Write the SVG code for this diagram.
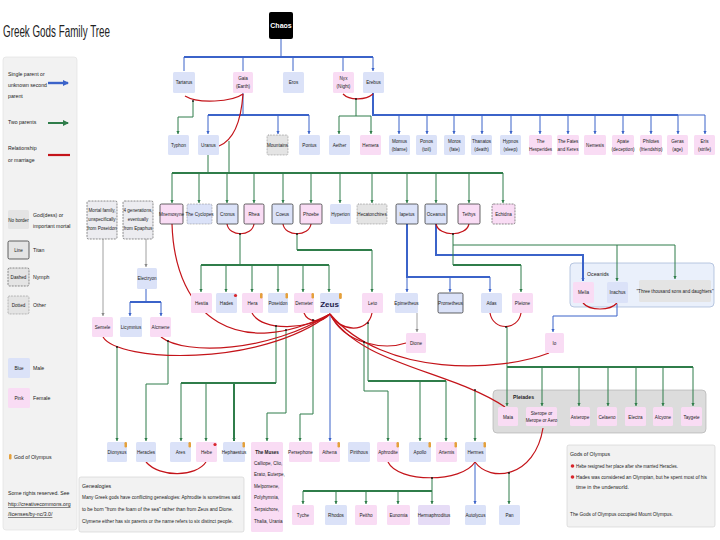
<svg xmlns="http://www.w3.org/2000/svg" width="720" height="540" viewBox="0 0 720 540">
<defs>
<style>
text{font-family:"Liberation Sans",Arial,sans-serif;fill:#222}
.t{font-size:4.6px;text-anchor:middle}
.l{font-size:5.2px}
.s{font-size:4.5px}
.m{fill:#dbe2f8}
.f{fill:#f9dcf4}
.o{fill:#e4e4e4}
.h{fill:#e6dcf6}
.ti{stroke:#222;stroke-width:0.7}
.ny{stroke:#444;stroke-width:0.6;stroke-dasharray:2 1}
.ot{stroke:#555;stroke-width:0.6;stroke-dasharray:0.6 0.9}
.cb{stroke:#3b63c9;fill:none;stroke-width:1}
.cbt{stroke:#3b63c9;fill:none;stroke-width:2}
.cg{stroke:#2f7d4a;fill:none;stroke-width:1}
.cgt{stroke:#2f7d4a;fill:none;stroke-width:2}
.cgy{stroke:#888;fill:none;stroke-width:0.8}
.cr{stroke:#c4141a;fill:none;stroke-width:1.2}
.ol{fill:#e5a03a}
.rd{fill:#d8262b}
</style>
<marker id="ab" markerWidth="4" markerHeight="4" refX="3" refY="2" orient="auto" markerUnits="userSpaceOnUse"><path d="M0,0.4 L3,2 L0,3.6z" fill="#3b63c9"/></marker>
<marker id="ag" markerWidth="4" markerHeight="4" refX="3" refY="2" orient="auto" markerUnits="userSpaceOnUse"><path d="M0,0.4 L3,2 L0,3.6z" fill="#2f7d4a"/></marker>
<marker id="ay" markerWidth="4" markerHeight="4" refX="3" refY="2" orient="auto" markerUnits="userSpaceOnUse"><path d="M0,0.4 L3,2 L0,3.6z" fill="#888"/></marker>
<marker id="lb" markerWidth="8" markerHeight="8" refX="5" refY="4" orient="auto" markerUnits="userSpaceOnUse"><path d="M0,1 L6,4 L0,7z" fill="#3b63c9"/></marker>
<marker id="lg" markerWidth="8" markerHeight="8" refX="5" refY="4" orient="auto" markerUnits="userSpaceOnUse"><path d="M0,1 L6,4 L0,7z" fill="#2f7d4a"/></marker>
</defs>
<rect width="720" height="540" fill="#fff"/>

<text x="3" y="37" font-size="16" textLength="107" lengthAdjust="spacingAndGlyphs" fill="#333">Greek Gods Family Tree</text>

<g id="legend">
<rect x="3" y="57" width="74" height="473" rx="3" fill="#f2f2f2" stroke="#ddd" stroke-width="0.6"/>
<text class="l" x="8" y="76">Single parent or</text>
<text class="l" x="8" y="87">unknown second</text>
<text class="l" x="8" y="98">parent</text>
<path d="M48,83 H68" stroke="#3b63c9" stroke-width="2.4" marker-end="url(#lb)"/>
<text class="l" x="8" y="124">Two parents</text>
<path d="M48,123 H68" stroke="#2f7d4a" stroke-width="2" marker-end="url(#lg)"/>
<text class="l" x="8" y="150">Relationship</text>
<text class="l" x="8" y="162">or marriage</text>
<path d="M48,155 H70" stroke="#c4141a" stroke-width="2.2"/>
<rect x="8" y="210" width="21" height="19" rx="1.5" class="o"/>
<text class="t" x="18.5" y="221.5">No border</text>
<text class="l" x="33" y="217">God(dess) or</text>
<text class="l" x="33" y="228">important mortal</text>
<rect x="8" y="241" width="21" height="18" rx="1.5" class="o ti"/>
<text class="t" x="18.5" y="251.5">Line</text>
<text class="l" x="33" y="252">Titan</text>
<rect x="8" y="268" width="21" height="18" rx="1.5" class="o ny"/>
<text class="t" x="18.5" y="278.5">Dashed</text>
<text class="l" x="33" y="279">Nymph</text>
<rect x="8" y="296" width="21" height="18" rx="1.5" class="o ot"/>
<text class="t" x="18.5" y="306.5">Dotted</text>
<text class="l" x="33" y="307">Other</text>
<rect x="8" y="358" width="22" height="20" rx="1.5" class="m"/>
<text class="t" x="19" y="369.5">Blue</text>
<text class="l" x="33" y="370">Male</text>
<rect x="8" y="388" width="22" height="20" rx="1.5" class="f"/>
<text class="t" x="19" y="399.5">Pink</text>
<text class="l" x="33" y="400">Female</text>
<rect x="9" y="454" width="2.5" height="5.5" rx="1.2" class="ol"/>
<text class="l" x="14" y="459">God of Olympus</text>
<text class="l" x="8" y="495">Some rights reserved. See</text>
<text class="l" x="8" y="506" fill="#2a4fb3" text-decoration="underline">http://creativecommons.org</text>
<text class="l" x="8" y="516" fill="#2a4fb3" text-decoration="underline">/licenses/by-nc/3.0/</text>
</g>

<g id="genealogies">
<rect x="79" y="477" width="165" height="55" rx="2" fill="#f2f2f2" stroke="#ccc" stroke-width="0.6"/>
<text class="l" x="82" y="488">Genealogies</text>
<text class="s" x="82" y="499" textLength="158" lengthAdjust="spacingAndGlyphs">Many Greek gods have conflicting genealogies: Aphrodite is sometimes said</text>
<text class="s" x="82" y="511" textLength="151" lengthAdjust="spacingAndGlyphs">to be born "from the foam of the sea" rather than from Zeus and Dione.</text>
<text class="s" x="82" y="523" textLength="151" lengthAdjust="spacingAndGlyphs">Clymene either has six parents or the name refers to six distinct people.</text>
</g>

<g id="olympus-note">
<rect x="567" y="445" width="148" height="82" rx="2" fill="#f2f2f2" stroke="#ccc" stroke-width="0.6"/>
<text class="l" x="570" y="456">Gods of Olympus</text>
<circle cx="572.5" cy="466" r="1.8" class="rd"/>
<text class="s" x="576" y="468" textLength="102" lengthAdjust="spacingAndGlyphs">Hebe resigned her place after she married Heracles.</text>
<circle cx="572.5" cy="477" r="1.8" class="rd"/>
<text class="s" x="576" y="479" textLength="131" lengthAdjust="spacingAndGlyphs">Hades was considered an Olympian, but he spent most of his</text>
<text class="s" x="576" y="489" textLength="53" lengthAdjust="spacingAndGlyphs">time in the underworld.</text>
<text class="s" x="570" y="516" textLength="103" lengthAdjust="spacingAndGlyphs">The Gods of Olympus occupied Mount Olympus.</text>
</g>

<g id="groups">
<rect x="570" y="263" width="144" height="44" rx="4" fill="#eaf0fb" stroke="#9fb2d4" stroke-width="0.7"/>
<text class="l" x="587" y="276">Oceanids</text>
<rect x="493" y="390" width="213" height="43" rx="4" fill="#dcdcdc" stroke="#aaa" stroke-width="0.6"/>
<text class="l" x="513" y="399" font-weight="bold">Pleiades</text>
</g>

<g id="connectors">
<path class="cb" d="M281,39 V57"/>
<path class="cbt" d="M184,57 H373"/>
<path class="cb" marker-end="url(#ab)" d="M184,57 V71 M243,57 V71 M293,57 V71 M343,57 V71 M373,57 V71"/>
<path class="cb" d="M243,93 V115"/>
<path class="cbt" d="M208,115 H309"/>
<path class="cb" marker-end="url(#ab)" d="M208,115 V134"/>
<path class="cb" marker-end="url(#ab)" d="M278,115 V134"/>
<path class="cb" marker-end="url(#ab)" d="M309,115 V134"/>
<path class="cbt" d="M373,93 V115 H678"/>
<path class="cb" d="M678,115 H705"/>
<g class="cb" marker-end="url(#ab)">
<path d="M399,115 V134"/><path d="M427,115 V134"/><path d="M454,115 V134"/><path d="M482,115 V134"/><path d="M511,115 V134"/><path d="M540,115 V134"/><path d="M568,115 V134"/><path d="M595,115 V134"/><path d="M623,115 V134"/><path d="M651,115 V134"/><path d="M678,115 V134"/><path d="M705,115 V134"/>
</g>
<path class="cbt" marker-end="url(#ab)" d="M436,224 V255 H583 V281"/>
<path class="cbt" d="M407,224 V277 H490"/>
<path class="cb" marker-end="url(#ab)" d="M407,277 V292"/>
<path class="cb" marker-end="url(#ab)" d="M450,277 V292"/>
<path class="cb" marker-end="url(#ab)" d="M490,277 V292"/>
<path class="cb" d="M146,289 V302"/>
<path class="cbt" d="M130,302 H161"/>
<path class="cb" marker-end="url(#ab)" d="M130,302 V316"/>
<path class="cb" marker-end="url(#ab)" d="M161,302 V316"/>
<path class="cb" marker-end="url(#ab)" d="M617,304 V316 H553 V332"/>
<path class="cb" marker-end="url(#ab)" d="M330,314 V441"/>
<path class="cb" marker-end="url(#ab)" d="M475,462 V504"/>
<path class="cgy" marker-end="url(#ay)" d="M417,313 V332"/>
<path class="cgy" marker-end="url(#ay)" d="M103,239 V316"/>
<path class="cgy" marker-end="url(#ay)" d="M146,239 V267"/>
<path class="cg" marker-end="url(#ag)" d="M193,101 V117 H178 V134"/>
<path class="cg" d="M208,155 V173"/>
<path class="cg" d="M229,141 V173"/>
<path class="cgt" d="M172,173 H503"/>
<g class="cg" marker-end="url(#ag)">
<path d="M172,173 V203"/><path d="M199,173 V203"/><path d="M227,173 V203"/><path d="M254,173 V203"/><path d="M283,173 V203"/><path d="M311,173 V203"/><path d="M340,173 V203"/><path d="M372,173 V203"/><path d="M407,173 V203"/><path d="M436,173 V203"/><path d="M469,173 V203"/><path d="M503,173 V203"/>
</g>
<path class="cg" d="M356,99 V116"/>
<path class="cg" d="M339,116 H371"/>
<path class="cg" marker-end="url(#ag)" d="M339,116 V134"/>
<path class="cg" marker-end="url(#ag)" d="M371,116 V134"/>
<path class="cg" d="M240,233 V265"/>
<path class="cgt" d="M201,265 H329"/>
<g class="cg" marker-end="url(#ag)">
<path d="M201,265 V292"/><path d="M226,265 V292"/><path d="M252,265 V292"/><path d="M278,265 V292"/><path d="M303,265 V292"/><path d="M329,265 V292"/>
</g>
<path class="cg" d="M297,233 V250"/>
<path class="cgt" d="M297,250 H372"/>
<path class="cg" marker-end="url(#ag)" d="M372,250 V292"/>
<path class="cg" d="M453,233 V265"/>
<path class="cgt" d="M453,265 H521"/>
<path class="cg" marker-end="url(#ag)" d="M521,265 V292"/>
<path class="cg" marker-end="url(#ag)" d="M453,245 H675 V279"/>
<path class="cg" marker-end="url(#ag)" d="M617,245 V281"/>
<path class="cg" marker-end="url(#ag)" d="M507,326 V406"/>
<path class="cgt" d="M507,367 H693"/>
<g class="cg" marker-end="url(#ag)">
<path d="M542,367 V406"/><path d="M579,367 V406"/><path d="M608,367 V406"/><path d="M636,367 V406"/><path d="M663,367 V406"/><path d="M693,367 V406"/>
</g>
<path class="cg" marker-end="url(#ag)" d="M117,347 V441"/>
<path class="cg" marker-end="url(#ag)" d="M168,341 V384 H146 V441"/>
<path class="cg" d="M276,326 V383"/>
<path class="cgt" d="M181,383 H276"/>
<path class="cg" marker-end="url(#ag)" d="M181,383 V441"/>
<path class="cg" marker-end="url(#ag)" d="M206,383 V441"/>
<path class="cgt" marker-end="url(#ag)" d="M234,383 V441"/>
<path class="cg" marker-end="url(#ag)" d="M286,330 V413 H267 V441"/>
<path class="cg" marker-end="url(#ag)" d="M313,320 V414 H300 V441"/>
<path class="cg" marker-end="url(#ag)" d="M364,342 V391 H388 V441"/>
<path class="cg" d="M368,323 V381"/>
<path class="cgt" d="M368,381 H446"/>
<path class="cg" marker-end="url(#ag)" d="M420,381 V441"/>
<path class="cg" marker-end="url(#ag)" d="M446,381 V441"/>
<path class="cg" marker-end="url(#ag)" d="M475,390 V441"/>
<path class="cg" d="M432,478 V491"/>
<path class="cgt" d="M303,491 H432"/>
<g class="cg" marker-end="url(#ag)">
<path d="M303,491 V504"/><path d="M336,491 V504"/><path d="M366,491 V504"/><path d="M398,491 V504"/><path d="M432,491 V504"/>
</g>
<path class="cg" marker-end="url(#ag)" d="M509,473 V504"/>
<g class="cr">
<path d="M185,96 C198,104 232,102 243,94"/>
<path d="M243,94 C241,122 234,140 219,146"/>
<path d="M343,94 C350,101 366,100 373,94"/>
<path d="M227,224 C229,237 252,237 254,224"/>
<path d="M283,224 C285,237 309,237 311,224"/>
<path d="M436,224 C439,237 466,237 469,224"/>
<path d="M490,313 C493,331 518,331 521,313"/>
<path d="M583,303 C590,311 610,311 617,303"/>
<path d="M252,313 C262,332 310,330 330,314"/>
<path d="M304,313 C308,323 322,323 330,314"/>
<path d="M172,224 C175,320 240,360 330,314"/>
<path d="M161,337 C185,356 270,352 330,314"/>
<path d="M103,337 C118,362 260,368 330,314"/>
<path d="M330,314 C340,332 368,334 372,313"/>
<path d="M330,314 C345,345 385,350 406,343"/>
<path d="M330,314 C385,378 500,372 549,353"/>
<path d="M330,314 C360,365 450,370 505,407"/>
<path d="M146,462 C160,478 196,477 206,462"/>
<path d="M388,462 C398,483 462,483 475,462"/>
<path d="M475,462 C490,483 535,478 543,428"/>
</g>
<g fill="#111">
<circle cx="193" cy="101" r="0.9"/><circle cx="240" cy="234" r="0.9"/><circle cx="297" cy="234" r="0.9"/><circle cx="453" cy="234" r="0.9"/><circle cx="506" cy="327" r="0.9"/><circle cx="276" cy="326" r="0.9"/><circle cx="313" cy="320" r="0.9"/><circle cx="286" cy="330" r="0.9"/><circle cx="168" cy="341" r="0.9"/><circle cx="117" cy="347" r="0.9"/><circle cx="368" cy="323" r="0.9"/><circle cx="364" cy="342" r="0.9"/><circle cx="475" cy="390" r="0.9"/><circle cx="432" cy="478" r="0.9"/><circle cx="509" cy="473" r="0.9"/><circle cx="356" cy="99" r="0.9"/>
</g>
</g>

<g id="n-chaos"><rect x="269" y="12" width="24" height="27" rx="2" fill="#000"/><text class="t" x="281" y="28" style="fill:#fff;font-size:7px;font-weight:bold">Chaos</text></g>
<g id="n-tartarus"><rect x="173" y="72" width="22" height="21" rx="1.5" class="m"/><text class="t" x="184" y="84">Tartarus</text></g>
<g id="n-gaia"><rect x="233" y="72" width="20" height="21" rx="1.5" class="f"/><text class="t" x="243" y="80">Gaia</text><text class="t" x="243" y="88">(Earth)</text></g>
<g id="n-eros"><rect x="283" y="72" width="21" height="21" rx="1.5" class="m"/><text class="t" x="293.5" y="84">Eros</text></g>
<g id="n-nyx"><rect x="333" y="72" width="21" height="21" rx="1.5" class="f"/><text class="t" x="343.5" y="80">Nyx</text><text class="t" x="343.5" y="88">(Night)</text></g>
<g id="n-erebus"><rect x="363" y="72" width="21" height="21" rx="1.5" class="m"/><text class="t" x="373.5" y="84">Erebus</text></g>

<g id="n-typhon"><rect x="168" y="135" width="21" height="20" rx="1.5" class="m"/><text class="t" x="178.5" y="147">Typhon</text></g>
<g id="n-uranus"><rect x="198" y="135" width="21" height="20" rx="1.5" class="m"/><text class="t" x="208.5" y="147">Uranus</text></g>
<g id="n-mountains"><rect x="267" y="135" width="21" height="20" rx="1.5" class="o ot"/><text class="t" x="277.5" y="147">Mountains</text></g>
<g id="n-pontus"><rect x="299" y="135" width="21" height="20" rx="1.5" class="m"/><text class="t" x="309.5" y="147">Pontus</text></g>
<g id="n-aether"><rect x="329" y="135" width="21" height="20" rx="1.5" class="m"/><text class="t" x="339.5" y="147">Aether</text></g>
<g id="n-hemera"><rect x="360" y="135" width="21" height="20" rx="1.5" class="f"/><text class="t" x="370.5" y="147">Hemera</text></g>
<g id="n-momus"><rect x="389" y="135" width="21" height="20" rx="1.5" class="m"/><text class="t" x="399.5" y="143">Momus</text><text class="t" x="399.5" y="151">(blame)</text></g>
<g id="n-ponos"><rect x="416" y="135" width="21" height="20" rx="1.5" class="m"/><text class="t" x="426.5" y="143">Ponos</text><text class="t" x="426.5" y="151">(toil)</text></g>
<g id="n-moros"><rect x="444" y="135" width="21" height="20" rx="1.5" class="m"/><text class="t" x="454.5" y="143">Moros</text><text class="t" x="454.5" y="151">(fate)</text></g>
<g id="n-thanatos"><rect x="471" y="135" width="21" height="20" rx="1.5" class="m"/><text class="t" x="481.5" y="143">Thanatos</text><text class="t" x="481.5" y="151">(death)</text></g>
<g id="n-hypnos"><rect x="500" y="135" width="21" height="20" rx="1.5" class="m"/><text class="t" x="510.5" y="143">Hypnos</text><text class="t" x="510.5" y="151">(sleep)</text></g>
<g id="n-hesperides"><rect x="529" y="135" width="23" height="20" rx="1.5" class="f"/><text class="t" x="540.5" y="143">The</text><text class="t" x="540.5" y="151">Hesperides</text></g>
<g id="n-fates"><rect x="557" y="135" width="22" height="20" rx="1.5" class="f"/><text class="t" x="568" y="143">The Fates</text><text class="t" x="568" y="151">and Keres</text></g>
<g id="n-nemesis"><rect x="584" y="135" width="22" height="20" rx="1.5" class="f"/><text class="t" x="595" y="147">Nemesis</text></g>
<g id="n-apate"><rect x="612" y="135" width="22" height="20" rx="1.5" class="f"/><text class="t" x="623" y="143">Apate</text><text class="t" x="623" y="151">(deception)</text></g>
<g id="n-philotes"><rect x="640" y="135" width="22" height="20" rx="1.5" class="f"/><text class="t" x="651" y="143">Philotes</text><text class="t" x="651" y="151">(friendship)</text></g>
<g id="n-geras"><rect x="667" y="135" width="21" height="20" rx="1.5" class="f"/><text class="t" x="677.5" y="143">Geras</text><text class="t" x="677.5" y="151">(age)</text></g>
<g id="n-eris"><rect x="694" y="135" width="21" height="20" rx="1.5" class="f"/><text class="t" x="704.5" y="143">Eris</text><text class="t" x="704.5" y="151">(strife)</text></g>

<g id="n-mnemosyne"><rect x="160" y="204" width="23" height="20" rx="1.5" class="f ti"/><text class="t" x="171.5" y="216">Mnemosyne</text></g>
<g id="n-cyclopes"><rect x="187" y="204" width="25" height="20" rx="1.5" class="m ot"/><text class="t" x="199.5" y="216">The Cyclopes</text></g>
<g id="n-cronus"><rect x="217" y="204" width="21" height="20" rx="1.5" class="m ti"/><text class="t" x="227.5" y="216">Cronus</text></g>
<g id="n-rhea"><rect x="244" y="204" width="20" height="20" rx="1.5" class="f ti"/><text class="t" x="254" y="216">Rhea</text></g>
<g id="n-coeus"><rect x="272" y="204" width="21" height="20" rx="1.5" class="m ti"/><text class="t" x="282.5" y="216">Coeus</text></g>
<g id="n-phoebe"><rect x="300" y="204" width="22" height="20" rx="1.5" class="f ti"/><text class="t" x="311" y="216">Phoebe</text></g>
<g id="n-hyperion"><rect x="330" y="204" width="21" height="20" rx="1.5" class="m"/><text class="t" x="340.5" y="216">Hyperion</text></g>
<g id="n-hecatonchires"><rect x="357" y="204" width="30" height="20" rx="1.5" class="o ot"/><text class="t" x="372" y="216">Hecatonchires</text></g>
<g id="n-iapetus"><rect x="396" y="204" width="22" height="20" rx="1.5" class="m ti"/><text class="t" x="407" y="216">Iapetus</text></g>
<g id="n-oceanus"><rect x="425" y="204" width="22" height="20" rx="1.5" class="m ti"/><text class="t" x="436" y="216">Oceanus</text></g>
<g id="n-tethys"><rect x="458" y="204" width="22" height="20" rx="1.5" class="f ti"/><text class="t" x="469" y="216">Tethys</text></g>
<g id="n-echidna"><rect x="492" y="204" width="23" height="20" rx="1.5" class="f ny"/><text class="t" x="503.5" y="216">Echidna</text></g>

<g id="n-mortal"><rect x="87" y="201" width="30" height="38" rx="1.5" fill="#ececf0" class="ny"/><text class="t" x="102" y="212">Mortal family,</text><text class="t" x="102" y="221">unspecifically</text><text class="t" x="102" y="230">from Poseidon</text></g>
<g id="n-generations"><rect x="123" y="201" width="30" height="38" rx="1.5" fill="#ececf0" class="ny"/><text class="t" x="138" y="212">4 generations,</text><text class="t" x="138" y="221">eventually</text><text class="t" x="138" y="230">from Epaphus</text></g>
<g id="n-electryon"><rect x="137" y="268" width="20" height="21" rx="1.5" class="m"/><text class="t" x="147" y="280">Electryon</text></g>
<g id="n-semele"><rect x="92" y="317" width="21" height="20" rx="1.5" class="f"/><text class="t" x="102.5" y="329">Semele</text></g>
<g id="n-licymnius"><rect x="120" y="317" width="22" height="20" rx="1.5" class="m"/><text class="t" x="131" y="329">Licymnius</text></g>
<g id="n-alcmene"><rect x="150" y="317" width="21" height="20" rx="1.5" class="f"/><text class="t" x="160.5" y="329">Alcmene</text></g>

<g id="n-hestia"><rect x="191" y="293" width="21" height="20" rx="1.5" class="f"/><text class="t" x="201.5" y="305">Hestia</text></g>
<g id="n-hades"><rect x="216" y="293" width="21" height="20" rx="1.5" class="m"/><text class="t" x="226.5" y="305">Hades</text><circle cx="235.5" cy="295.5" r="1.6" class="rd"/></g>
<g id="n-hera"><rect x="242" y="293" width="21" height="20" rx="1.5" class="f"/><text class="t" x="252.5" y="305">Hera</text><rect x="260" y="293" width="2.5" height="5.5" rx="1.2" class="ol"/></g>
<g id="n-poseidon"><rect x="268" y="293" width="20" height="20" rx="1.5" class="m"/><text class="t" x="278" y="305">Poseidon</text><rect x="285.5" y="293" width="2.5" height="5.5" rx="1.2" class="ol"/></g>
<g id="n-demeter"><rect x="294" y="293" width="20" height="20" rx="1.5" class="f"/><text class="t" x="304" y="305">Demeter</text><rect x="311.5" y="293" width="2.5" height="5.5" rx="1.2" class="ol"/></g>
<g id="n-zeus"><rect x="320" y="293" width="20" height="20" rx="1.5" class="m"/><text class="t" x="329.5" y="306.5" style="font-size:8px;font-weight:bold;fill:#1a1a4a">Zeus</text><rect x="339" y="293" width="2.8" height="6" rx="1.3" class="ol"/></g>
<g id="n-leto"><rect x="362" y="293" width="21" height="20" rx="1.5" class="f"/><text class="t" x="372.5" y="305">Leto</text></g>
<g id="n-epimetheus"><rect x="395" y="293" width="23" height="20" rx="1.5" class="m"/><text class="t" x="406.5" y="305">Epimetheus</text></g>
<g id="n-prometheus"><rect x="438" y="293" width="25" height="20" rx="1.5" class="m ti"/><text class="t" x="450.5" y="305">Prometheus</text></g>
<g id="n-atlas"><rect x="481" y="293" width="21" height="20" rx="1.5" class="m"/><text class="t" x="491.5" y="305">Atlas</text></g>
<g id="n-pleione"><rect x="512" y="293" width="21" height="20" rx="1.5" class="f"/><text class="t" x="522.5" y="305">Pleione</text></g>

<g id="n-melia"><rect x="573" y="282" width="21" height="21" rx="1.5" class="f"/><text class="t" x="583.5" y="294">Melia</text></g>
<g id="n-inachus"><rect x="607" y="282" width="21" height="21" rx="1.5" class="m"/><text class="t" x="617.5" y="294">Inachus</text></g>
<g id="n-thousand"><rect x="639" y="280" width="72" height="22" rx="1.5" class="o"/><text class="t" x="675" y="293">"Three thousand sons and daughters"</text></g>
<g id="n-dione"><rect x="406" y="333" width="20" height="20" rx="1.5" class="f"/><text class="t" x="416" y="345">Dione</text></g>
<g id="n-io"><rect x="545" y="333" width="19" height="20" rx="1.5" class="f"/><text class="t" x="554.5" y="345">Io</text></g>

<g id="n-maia"><rect x="498" y="407" width="20" height="19" rx="1.5" class="f"/><text class="t" x="508" y="418.5">Maia</text></g>
<g id="n-sterope"><rect x="526" y="407" width="31" height="19" rx="1.5" class="f"/><text class="t" x="541.5" y="415">Sterope or</text><text class="t" x="541.5" y="422">Merope or Aero</text></g>
<g id="n-asterope"><rect x="570" y="407" width="20" height="19" rx="1.5" class="f"/><text class="t" x="580" y="418.5">Asterope</text></g>
<g id="n-celaeno"><rect x="597" y="407" width="20" height="19" rx="1.5" class="f"/><text class="t" x="607" y="418.5">Celaeno</text></g>
<g id="n-electra"><rect x="625" y="407" width="21" height="19" rx="1.5" class="f"/><text class="t" x="635.5" y="418.5">Electra</text></g>
<g id="n-alcyone"><rect x="653" y="407" width="20" height="19" rx="1.5" class="f"/><text class="t" x="663" y="418.5">Alcyone</text></g>
<g id="n-taygete"><rect x="681" y="407" width="21" height="19" rx="1.5" class="f"/><text class="t" x="691.5" y="418.5">Taygete</text></g>

<g id="n-dionysus"><rect x="107" y="442" width="20" height="20" rx="1.5" class="m"/><text class="t" x="117" y="454">Dionysus</text><rect x="124.5" y="442" width="2.5" height="5.5" rx="1.2" class="ol"/></g>
<g id="n-heracles"><rect x="136" y="442" width="20" height="20" rx="1.5" class="m"/><text class="t" x="146" y="454">Heracles</text></g>
<g id="n-ares"><rect x="170" y="442" width="21" height="20" rx="1.5" class="m"/><text class="t" x="180.5" y="454">Ares</text><rect x="188.5" y="442" width="2.5" height="5.5" rx="1.2" class="ol"/></g>
<g id="n-hebe"><rect x="196" y="442" width="21" height="20" rx="1.5" class="f"/><text class="t" x="206.5" y="454">Hebe</text><circle cx="215" cy="444.5" r="1.6" class="rd"/></g>
<g id="n-hephaestus"><rect x="223" y="442" width="22" height="20" rx="1.5" class="m"/><text class="t" x="234" y="454">Hephaestus</text><rect x="242.5" y="442" width="2.5" height="5.5" rx="1.2" class="ol"/></g>
<g id="n-muses"><rect x="251" y="442" width="32" height="90" rx="1.5" class="f"/>
<text class="t" x="267" y="454" font-weight="bold">The Muses</text>
<text class="t" x="254" y="465" style="text-anchor:start">Calliope, Clio,</text>
<text class="t" x="254" y="476" style="text-anchor:start">Erato, Euterpe,</text>
<text class="t" x="254" y="488" style="text-anchor:start">Melpomene,</text>
<text class="t" x="254" y="499" style="text-anchor:start">Polyhymnia,</text>
<text class="t" x="254" y="511" style="text-anchor:start">Terpsichore,</text>
<text class="t" x="254" y="523" style="text-anchor:start">Thalia, Urania</text></g>
<g id="n-persephone"><rect x="289" y="442" width="23" height="20" rx="1.5" class="f"/><text class="t" x="300.5" y="454">Persephone</text></g>
<g id="n-athena"><rect x="319" y="442" width="21" height="20" rx="1.5" class="f"/><text class="t" x="329.5" y="454">Athena</text><rect x="337.5" y="442" width="2.5" height="5.5" rx="1.2" class="ol"/></g>
<g id="n-pirithous"><rect x="348" y="442" width="22" height="20" rx="1.5" class="m"/><text class="t" x="359" y="454">Pirithous</text></g>
<g id="n-aphrodite"><rect x="377" y="442" width="22" height="20" rx="1.5" class="f"/><text class="t" x="388" y="454">Aphrodite</text><rect x="396.5" y="442" width="2.5" height="5.5" rx="1.2" class="ol"/></g>
<g id="n-apollo"><rect x="409" y="442" width="22" height="20" rx="1.5" class="m"/><text class="t" x="420" y="454">Apollo</text><rect x="428.5" y="442" width="2.5" height="5.5" rx="1.2" class="ol"/></g>
<g id="n-artemis"><rect x="436" y="442" width="21" height="20" rx="1.5" class="f"/><text class="t" x="446.5" y="454">Artemis</text><rect x="454.5" y="442" width="2.5" height="5.5" rx="1.2" class="ol"/></g>
<g id="n-hermes"><rect x="465" y="442" width="21" height="20" rx="1.5" class="m"/><text class="t" x="475.5" y="454">Hermes</text><rect x="483.5" y="442" width="2.5" height="5.5" rx="1.2" class="ol"/></g>

<g id="n-tyche"><rect x="292" y="505" width="22" height="20" rx="1.5" class="f"/><text class="t" x="303" y="517">Tyche</text></g>
<g id="n-rhodos"><rect x="325" y="505" width="22" height="20" rx="1.5" class="m"/><text class="t" x="336" y="517">Rhodos</text></g>
<g id="n-peitho"><rect x="355" y="505" width="22" height="20" rx="1.5" class="f"/><text class="t" x="366" y="517">Peitho</text></g>
<g id="n-eunomia"><rect x="387" y="505" width="23" height="20" rx="1.5" class="f"/><text class="t" x="398.5" y="517">Eunomia</text></g>
<g id="n-hermaphroditus"><rect x="418" y="505" width="32" height="20" rx="1.5" class="h"/><text class="t" x="434" y="517">Hermaphroditus</text></g>
<g id="n-autolycus"><rect x="465" y="505" width="21" height="20" rx="1.5" class="m"/><text class="t" x="475.5" y="517">Autolycus</text></g>
<g id="n-pan"><rect x="499" y="505" width="21" height="20" rx="1.5" class="m"/><text class="t" x="509.5" y="517">Pan</text></g>
</svg>
